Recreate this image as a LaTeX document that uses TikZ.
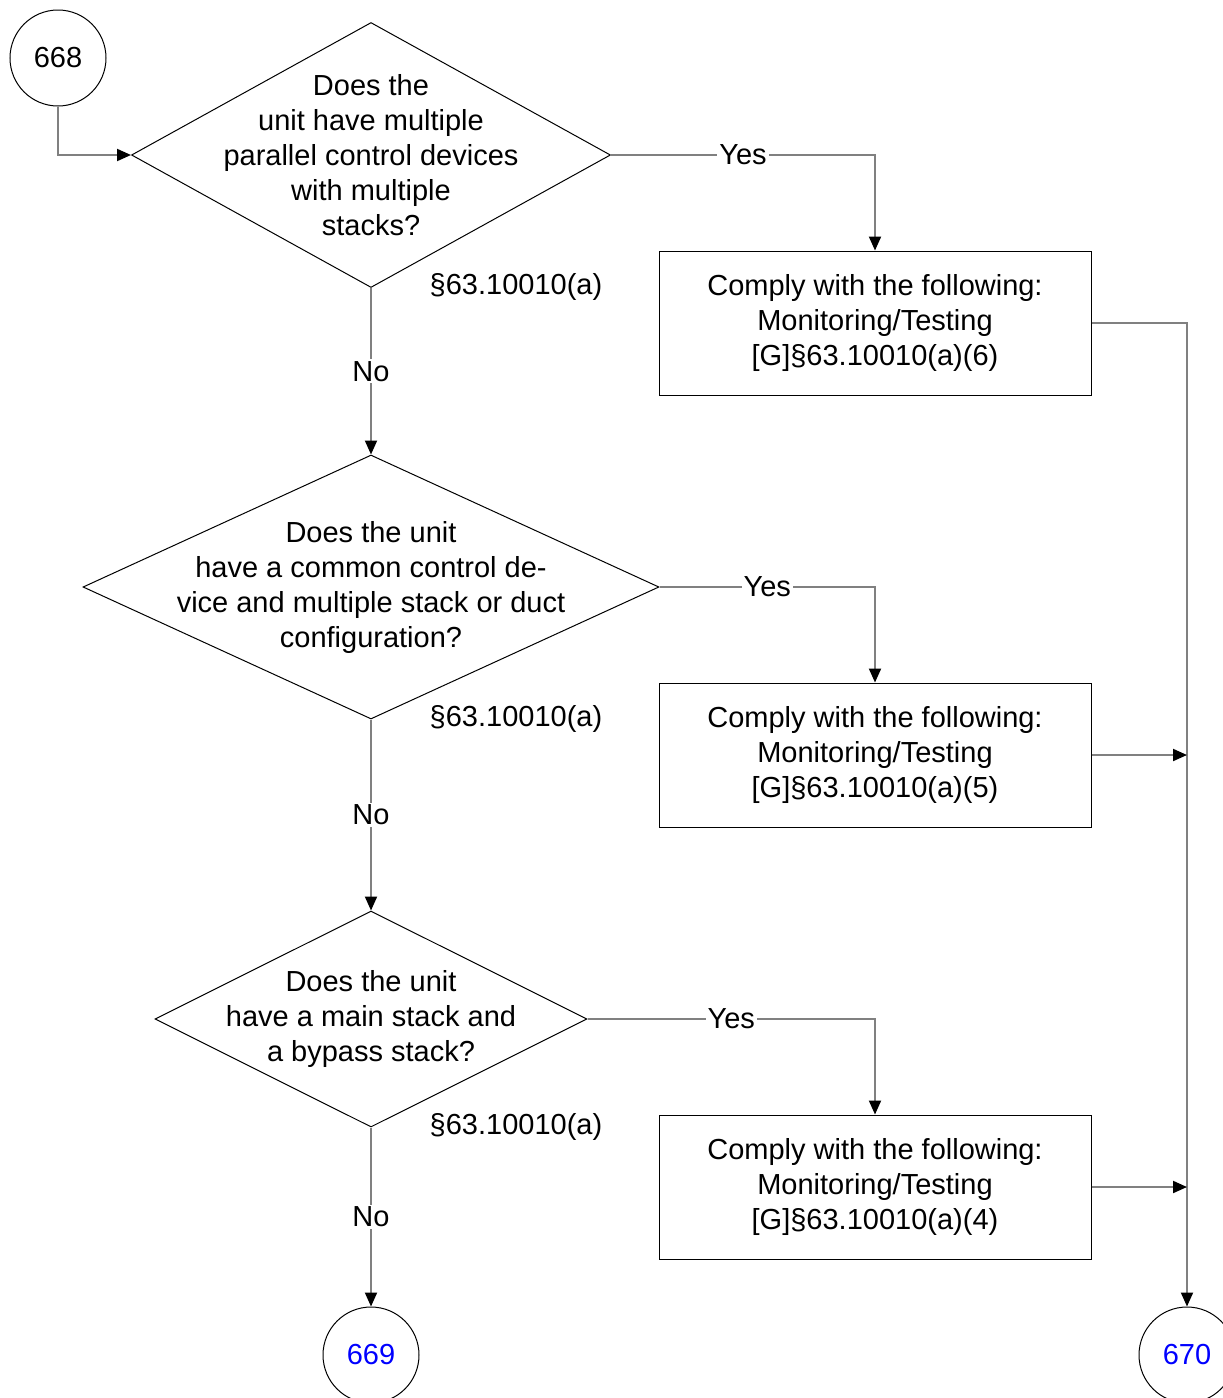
\documentclass[tikz,border=0pt]{standalone}
\usepackage{fontspec}
\setmainfont{Liberation Sans}
\usepackage{tikz}
\usetikzlibrary{shapes.geometric, arrows.meta, positioning}
\definecolor{linegray}{RGB}{128,128,128}
\definecolor{pageblue}{RGB}{0,0,255}
\tikzset{
  decision/.style={diamond, draw=black, line width=0.5pt, inner sep=0pt},
  qtext/.style={align=center, inner sep=0pt,
    font=\fontsize{14.5}{17.5}\selectfont},
  action/.style={rectangle, draw=black, line width=0.5pt,
    minimum width=216pt, minimum height=72pt, align=center,
    font=\fontsize{14.5}{17.5}\selectfont},
  pagecirc/.style={circle, draw=black, line width=0.5pt,
    minimum size=48pt, inner sep=0pt,
    font=\fontsize{14.5}{17.5}\selectfont},
  arrow/.style={-{Triangle[length=7pt, width=6pt, color=black]},
    draw=linegray, line width=1pt},
  lbl/.style={fill=white, inner sep=1pt,
    font=\fontsize{14.5}{17.5}\selectfont},
  reftext/.style={font=\fontsize{14.5}{17.5}\selectfont}
}
\begin{document}
\begin{tikzpicture}[x=0.5pt, y=-0.5pt]
  \useasboundingbox (0,0) rectangle (1222,1398);

  % off-page connectors
  \node[pagecirc] (c668) at (58,58) {668};
  \node[pagecirc, text=pageblue] (c669) at (371,1355) {669};
  \node[pagecirc, text=pageblue] (c670) at (1187,1355) {670};

  % decisions
  \node[decision, minimum width=239.5pt, minimum height=132.5pt] (q1) at (371,155) {};
  \node[qtext] (q1t) at (q1) {Does the\\unit have multiple\\parallel control devices\\with multiple\\stacks?};
  \node[decision, minimum width=288pt, minimum height=132pt] (q2) at (371,587) {};
  \node[qtext] (q2t) at (q2) {Does the unit\\have a common control de-\\vice and multiple stack or duct\\configuration?};
  \node[decision, minimum width=216pt, minimum height=108pt] (q3) at (371,1019) {};
  \node[qtext] (q3t) at (q3) {Does the unit\\have a main stack and\\a bypass stack?};

  % citations
  \node[reftext] (r1) at (516,287) {§63.10010(a)};
  \node[reftext] (r2) at (516,719) {§63.10010(a)};
  \node[reftext] (r3) at (516,1127) {§63.10010(a)};

  % requirements
  \node[action] (b1) at (875,323) {Comply with the following:\\Monitoring/Testing\\{[G]§63.10010(a)(6)}};
  \node[action] (b2) at (875,755) {Comply with the following:\\Monitoring/Testing\\{[G]§63.10010(a)(5)}};
  \node[action] (b3) at (875,1187) {Comply with the following:\\Monitoring/Testing\\{[G]§63.10010(a)(4)}};

  % flow
  \draw[arrow] (c668.south) |- (q1.west);
  \draw[arrow] (q1.east) -| node[lbl, pos=0.25] {Yes} (b1.north);
  \draw[arrow] (q2.east) -| node[lbl, pos=0.25] {Yes} (b2.north);
  \draw[arrow] (q3.east) -| node[lbl, pos=0.25] {Yes} (b3.north);
  \draw[arrow] (q1.south) -- node[lbl] {No} (q2.north);
  \draw[arrow] (q2.south) -- node[lbl] {No} (q3.north);
  \draw[arrow] (q3.south) -- node[lbl] {No} (c669.north);

  % collector to 670
  \draw[arrow] (b1.east) -| (c670.north);
  \draw[arrow] (b2.east) -- (b2.east -| c670.north);
  \draw[arrow] (b3.east) -- (b3.east -| c670.north);
\end{tikzpicture}
\end{document}
